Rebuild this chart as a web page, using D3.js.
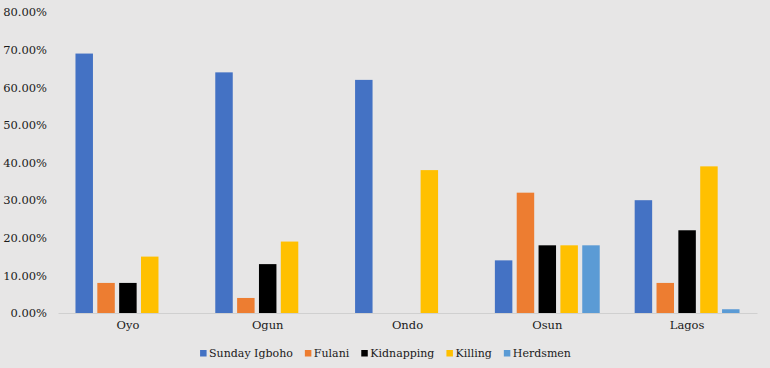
<!DOCTYPE html>
<html><head><meta charset="utf-8">
<script src="https://cdn.jsdelivr.net/npm/d3@7"></script>
<style>body{margin:0;background:#e7e6e6;}svg{display:block;}</style>
</head><body>
<svg id="c" width="770" height="368"></svg>
<script>
const categories = ["Oyo","Ogun","Ondo","Osun","Lagos"];
const seriesNames = ["Sunday Igboho","Fulani","Kidnapping","Killing","Herdsmen"];
const sundayIgboho = [69,64,62,14,30];
const fulani = [8,4,0,32,8];
const kidnapping = [8,13,0,18,22];
const killing = [15,19,38,18,39];
const herdsmen = [0,0,0,18,1];
const yTicks = [0,10,20,30,40,50,60,70,80];
const colors = ["#4472C4","#ED7D31","#000000","#FFC000","#5B9BD5"];

(function(){
const series = [sundayIgboho,fulani,kidnapping,killing,herdsmen];
const svg = d3.select("#c");
svg.append("rect").attr("width",770).attr("height",368).attr("fill","#e7e6e6");
const font = "'DejaVu Serif', 'Liberation Serif', serif";
const fs = 11.5;
const mLeft = 58, mRight = 757, mTop = 12.2, mBottom = 313;

const x0 = d3.scaleBand().domain(categories).range([mLeft,mRight]).paddingInner(0.25).paddingOuter(0.125);
const x1 = d3.scaleBand().domain(seriesNames).range([0,x0.bandwidth()]).paddingInner(0.2).paddingOuter(0);
const y = d3.scaleLinear().domain([0,80]).range([mBottom,mTop]);

const ya = svg.append("g").attr("transform",`translate(${mLeft},0)`)
  .call(d3.axisLeft(y).tickValues(yTicks).tickSize(0).tickPadding(11).tickFormat(d=>d.toFixed(2)+"%"));
ya.select(".domain").remove();
ya.selectAll("text").attr("font-family",font).attr("font-size",fs).attr("fill","#1a1a1a");

categories.forEach((c,ci)=>{
  const g = svg.append("g").attr("transform",`translate(${x0(c)},0)`);
  seriesNames.forEach((s,si)=>{
    const v = series[si][ci];
    if (v<=0) return;
    g.append("rect").attr("x",x1(s)).attr("width",x1.bandwidth())
      .attr("y",y(v)).attr("height",y(0)-y(v)).attr("fill",colors[si]);
  });
});

const xa = svg.append("g").attr("transform",`translate(0,${mBottom})`)
  .call(d3.axisBottom(x0).tickSize(0).tickPadding(8));
xa.select(".domain").attr("stroke","#d0d0d0").attr("stroke-width",1);
xa.selectAll("text").attr("font-family",font).attr("font-size",fs).attr("fill","#1a1a1a");

const lg = svg.append("g");
const items = seriesNames.map((s,i)=>{
  const it = lg.append("g");
  it.append("rect").attr("width",6.5).attr("height",6.5).attr("y",-7).attr("fill",colors[i]);
  const t = it.append("text").attr("x",9).attr("font-family",font).attr("font-size",11).attr("fill","#1a1a1a").text(s);
  return {it, w: 9 + t.node().getComputedTextLength()};
});
const gap = 12;
const total = d3.sum(items,d=>d.w) + gap*(items.length-1);
let cx = (201+570)/2 - total/2;
items.forEach(d=>{ d.it.attr("transform",`translate(${cx},357)`); cx += d.w + gap; });
})();
</script>
</body></html>
